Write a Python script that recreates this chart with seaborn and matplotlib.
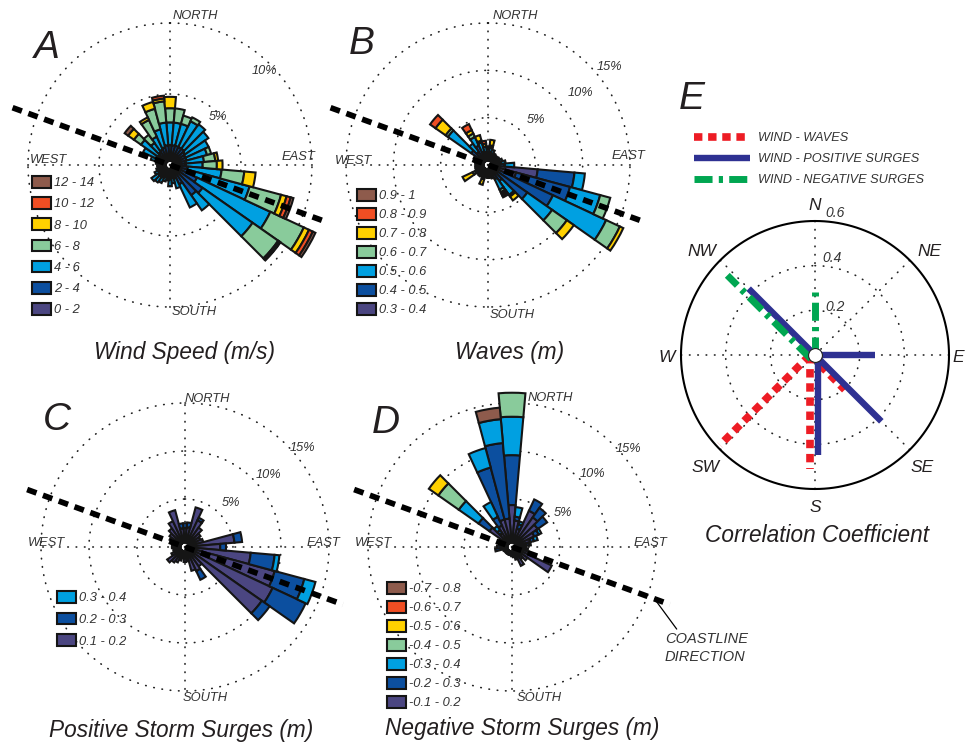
import numpy as np
import matplotlib
matplotlib.use("Agg")
import matplotlib.pyplot as plt
from matplotlib.patches import Patch
from matplotlib.lines import Line2D
from matplotlib.transforms import offset_copy
import seaborn as sns

sns.set_style("white")
plt.rcParams["font.family"] = ["Liberation Sans", "DejaVu Sans"]
plt.rcParams["font.style"] = "italic"

# ---------------- data ----------------
BEARINGS = [0, 10, 20, 30, 40, 50, 60, 70, 80, 90, 100, 110, 120, 130, 140, 150, 160, 170,
            180, 190, 200, 210, 220, 230, 240, 250, 260, 270, 280, 290, 300, 310, 320, 330, 340, 350]

# A - wind speed (m/s), % of records per direction
A_LABELS = ["0 - 2", "2 - 4", "4 - 6", "6 - 8", "8 - 10", "10 - 12", "12 - 14"]
A_0_2 = [0.1, 0.1, 0.1, 0.1, 0.1, 0.1, 0.1, 0.1, 0.1, 0.1, 0.15, 0.2, 0.3, 0.3, 0.3, 0.2, 0.1, 0.1,
         0.1, 0.1, 0.1, 0.1, 0.1, 0.1, 0.1, 0.1, 0.1, 0.1, 0.1, 0.1, 0.1, 0.1, 0.1, 0.1, 0.1, 0.1]
A_2_4 = [1.0, 1.0, 1.0, 1.0, 1.0, 0.9, 0.8, 0.8, 0.7, 0.7, 0.8, 1.0, 1.5, 2.2, 2.0, 1.0, 0.6, 0.5,
         0.6, 0.5, 0.5, 0.6, 0.6, 0.6, 0.5, 0.4, 0.4, 0.4, 0.4, 0.6, 0.7, 0.6, 0.7, 0.8, 0.9, 1.0]
A_4_6 = [1.6, 1.6, 1.6, 2.0, 2.1, 2.0, 1.8, 1.5, 1.3, 1.2, 2.4, 4.3, 5.7, 4.3, 1.3, 1.8, 0.7, 0.4,
         0.5, 0.2, 0.3, 0.4, 0.5, 0.6, 0.3, 0.2, 0.1, 0.1, 0.2, 0.4, 1.0, 1.5, 0.8, 1.0, 1.3, 1.6]
A_6_8 = [1.0, 1.0, 0.6, 0.3, 0, 0, 0, 0.3, 0.8, 1.0, 1.6, 2.3, 2.6, 2.2, 0, 0, 0, 0,
         0, 0, 0, 0, 0, 0, 0, 0, 0, 0, 0, 0, 0, 0.6, 0.7, 1.3, 1.5, 1.5]
A_8_10 = [0.8, 0, 0, 0, 0, 0, 0, 0, 0.2, 0.4, 0.8, 0.4, 0.4, 0.1, 0, 0, 0, 0,
          0, 0, 0, 0, 0, 0, 0, 0, 0, 0, 0, 0, 0, 0.5, 0, 0.2, 0.5, 0.2]
A_10_12 = [0, 0, 0, 0, 0, 0, 0, 0, 0, 0, 0, 0.3, 0.3, 0.05, 0, 0, 0, 0,
           0, 0, 0, 0, 0, 0, 0, 0, 0, 0, 0, 0, 0, 0, 0, 0, 0, 0.2]
A_12_14 = [0, 0, 0, 0, 0, 0, 0, 0, 0, 0, 0, 0.2, 0.2, 0.05, 0, 0, 0, 0,
           0, 0, 0, 0, 0, 0, 0, 0, 0, 0, 0, 0, 0, 0.3, 0, 0, 0, 0]

# B - waves (m)
B_LABELS = ["0.3 - 0.4", "0.4 - 0.5", "0.5 - 0.6", "0.6 - 0.7", "0.7 - 0.8", "0.8 - 0.9", "0.9 - 1"]
B_03_04 = [0.2, 0.2, 0.2, 0.2, 0.2, 0.2, 0.2, 0.2, 0.3, 0.5, 4.8, 2.6, 0.6, 0.6, 0.6, 0.4, 0.2, 0.2,
           0.2, 0.2, 0.2, 0.2, 0.2, 0.2, 0.2, 0.2, 0.2, 0.2, 0.2, 0.2, 0.2, 0.2, 0.2, 0.2, 0.2, 0.2]
B_04_05 = [0.6, 0.7, 0.5, 0.4, 0.4, 0.4, 0.4, 0.5, 0.6, 0.8, 3.9, 5.9, 6.5, 4.0, 1.0, 0.8, 0.5, 0.4,
           0.4, 0.4, 0.4, 0.4, 0.4, 0.4, 0.5, 0.4, 0.4, 0.4, 0.4, 0.4, 0.5, 1.5, 1.0, 1.6, 0.8, 0.7]
B_05_06 = [0.5, 0.5, 0.5, 0.3, 0.2, 0.2, 0.3, 0.4, 0.5, 1.0, 1.1, 3.3, 6.2, 3.2, 1.8, 1.2, 0.3, 0.3,
           0.3, 0.2, 0.3, 0.3, 0.4, 0.3, 0.3, 0.3, 0.3, 0.2, 0.3, 0.4, 0.5, 3.0, 1.1, 1.0, 1.0, 0.6]
B_06_07 = [0, 0.2, 0, 0, 0, 0, 0, 0, 0, 0, 0, 1.1, 1.6, 1.9, 0.2, 0.3, 0, 0,
           0, 0, 0.2, 0, 0, 0, 0.3, 0, 0, 0, 0, 0, 0, 0.3, 0, 0.4, 0.2, 0]
B_07_08 = [0.2, 0.6, 0, 0, 0, 0, 0, 0, 0, 0, 0, 0, 0.4, 0.9, 0.5, 0.2, 0, 0,
           0, 0, 0.6, 0, 0, 0, 1.2, 0, 0, 0, 0, 0, 0, 1.3, 0, 0.4, 0.6, 0.3]
B_08_09 = [0, 0, 0, 0, 0, 0, 0, 0, 0, 0, 0, 0, 0, 0, 0, 0.2, 0, 0,
           0, 0, 0, 0, 0, 0, 0, 0, 0, 0, 0, 0, 0, 0.7, 0, 0.7, 0, 0.3]
B_09_10 = [0, 0, 0, 0, 0, 0, 0, 0, 0, 0, 0, 0, 0, 0, 0, 0.2, 0, 0,
           0, 0, 0, 0, 0, 0, 0, 0, 0, 0, 0, 0, 0, 0, 0, 0, 0, 0]

# C - positive storm surges (m)
C_LABELS = ["0.1 - 0.2", "0.2 - 0.3", "0.3 - 0.4"]
C_01_02 = [1.5, 1.6, 3.8, 2.6, 2.0, 1.5, 1.3, 1.5, 4.7, 3.2, 6.4, 9.2, 9.6, 9.3, 2.0, 2.3, 2.1, 1.0,
           1.1, 0.7, 1.0, 1.3, 1.5, 1.8, 1.1, 0.8, 0.7, 0.9, 0.8, 1.0, 1.3, 1.5, 1.9, 2.5, 3.5, 1.5]
C_02_03 = [0.5, 0.5, 0, 0.3, 0, 0, 0, 0, 0.8, 0.6, 2.5, 3.2, 3.8, 1.0, 0, 1.0, 0, 0,
           0, 0, 0, 0, 0, 0, 0, 0, 0, 0, 0, 0, 0, 0, 0, 0, 0, 0.5]
C_03_04 = [0, 0, 0, 0, 0, 0, 0, 0, 0, 0, 0.5, 1.2, 0, 0, 0, 0, 0, 0,
           0, 0, 0, 0, 0, 0, 0, 0, 0, 0, 0, 0, 0, 0, 0, 0, 0, 0]

# D - negative storm surges (m)
D_LABELS = ["-0.1 - 0.2", "-0.2 - 0.3", "-0.3 - 0.4", "-0.4 - 0.5", "-0.5 - 0.6", "-0.6 - 0.7", "-0.7 - 0.8"]
D_01_02 = [3.9, 2.3, 1.5, 3.7, 3.3, 2.8, 2.1, 1.5, 1.0, 0.7, 1.0, 1.3, 4.1, 1.5, 1.1, 1.7, 0.9, 0.6,
           0.5, 0.4, 0.4, 0.4, 0.4, 0.4, 0.4, 0.5, 0.3, 0.5, 0.7, 0.7, 1.0, 2.4, 1.3, 2.0, 2.5, 2.5]
D_02_03 = [5.2, 0.4, 0.5, 1.3, 1.2, 1.2, 0.5, 0.4, 0.3, 0.3, 0.2, 0, 0, 0, 0, 0, 0, 0,
           0, 0, 0, 0, 0, 0, 0, 0, 1.0, 0.6, 0, 0, 0, 1.4, 0.4, 1.0, 5.6, 7.9]
D_03_04 = [4.0, 1.0, 0.3, 0, 0, 0, 0.3, 0.4, 0.2, 0, 0, 0, 0, 0, 0, 0, 0, 0,
           0, 0, 0, 0, 0, 0, 0, 0, 0, 0, 0, 0, 0, 2.5, 0.5, 1.7, 2.1, 2.5]
D_04_05 = [2.5, 0, 0, 0, 0, 0, 0, 0, 0, 0, 0, 0, 0, 0, 0, 0, 0, 0,
           0, 0, 0, 0, 0, 0, 0, 0, 0, 0, 0, 0, 0, 2.6, 0, 0, 0, 0]
D_05_06 = [0, 0, 0, 0, 0, 0, 0, 0, 0, 0, 0, 0, 0, 0, 0, 0, 0, 0,
           0, 0, 0, 0, 0, 0, 0, 0, 0, 0, 0, 0, 0, 1.2, 0, 0, 0, 0]
D_06_07 = [0, 0, 0, 0, 0, 0, 0, 0, 0, 0, 0, 0, 0, 0, 0, 0, 0, 0,
           0, 0, 0, 0, 0, 0, 0, 0, 0, 0, 0, 0, 0, 0, 0, 0, 0, 0]
D_07_08 = [0, 0, 0, 0, 0, 0, 0, 0, 0, 0, 0, 0, 0, 0, 0, 0, 0, 0,
           0, 0, 0, 0, 0, 0, 0, 0, 0, 0, 0, 0, 0, 0, 0, 0, 0, 1.2]

# E - correlation coefficient by direction
E_DIRECTIONS = ["N", "NE", "E", "SE", "S", "SW", "W", "NW"]
E_BEARINGS = [0, 45, 90, 135, 180, 225, 270, 315]
WIND_WAVES = [0, 0, 0, 0.22, 0.51, 0.57, 0, 0]
WIND_POS_SURGES = [0, 0, 0.27, 0.42, 0.45, 0, 0, 0.42]
WIND_NEG_SURGES = [0.28, 0, 0, 0, 0, 0, 0, 0.53]
E_SERIES = ["WIND - WAVES", "WIND - POSITIVE SURGES", "WIND - NEGATIVE SURGES"]
E_RINGS = [0.2, 0.4, 0.6]

COAST_BEARING = 110

# ---------------- style ----------------
PAL7 = sns.color_palette(["#4b4681", "#0c4f9f", "#00a0e1", "#89cb9b", "#ffd100", "#f04e23", "#8e5b4c"])
PAL3 = PAL7[:3]
E_COLORS = sns.color_palette(["#ed1c24", "#2e3192", "#00a651"])
TXT = "#231f20"
GREY = "#333333"
EDGE = "#151515"

W, H = 966, 746
fig = plt.figure(figsize=(W / 100, H / 100), dpi=100)


def fx(x):
    return x / W


def fy(y):
    return 1 - y / H


def polar_axes(cx, cy, rp, rmax):
    ax = fig.add_axes([(cx - rp) / W, (H - cy - rp) / H, 2 * rp / W, 2 * rp / H], projection="polar")
    ax.set_theta_zero_location("N")
    ax.set_theta_direction(-1)
    ax.set_ylim(0, rmax)
    ax.axis("off")
    return ax


DOT = dict(color="#222222", lw=1.2, linestyle=(0, (0.3, 4.7)), dash_capstyle="round", zorder=1, clip_on=False)
CIRC = np.linspace(0, 2 * np.pi, 361)


def rose(cx, cy, rp, rings, classes, labels, colors, r0, coast_len, pct_pos, comp_off,
         leg_xy, leg_spacing):
    rmax = rings[-1]
    ax = polar_axes(cx, cy, rp, rmax)
    for r in rings:
        ax.plot(CIRC, np.full_like(CIRC, r), **DOT)
    for b in (0, 90, 180, 270):
        ax.plot([np.deg2rad(b)] * 2, [0, rmax * 1.03], **DOT)
    theta = np.deg2rad(np.array(BEARINGS, dtype=float))
    width = np.deg2rad(10)
    bottom = np.full(len(BEARINGS), r0)
    for vals, col in zip(classes, colors):
        v = np.asarray(vals, dtype=float)
        m = v > 0
        if m.any():
            bars = ax.bar(theta[m], v[m], width=width, bottom=bottom[m], color=col,
                          edgecolor=EDGE, linewidth=1.5, zorder=3)
            for p in bars:
                p.set_clip_on(False)
        bottom = bottom + v
    # coastline direction
    tc = np.deg2rad(COAST_BEARING)
    ax.plot([tc + np.pi, tc, tc], [coast_len, 0, coast_len], color="black", lw=4.1,
            linestyle=(0, (1.75, 1.2)), dash_capstyle="butt", zorder=5, clip_on=False)
    # percent labels
    for txt, b, r in pct_pos:
        ax.text(np.deg2rad(b), r, txt, ha="center", va="center", fontsize=9.2, color=GREY, zorder=6)
    # compass labels
    for name, (dx, dy, ha) in comp_off.items():
        ax.annotate(name, xy=(0.5, 0.5), xycoords="axes fraction", xytext=(dx, dy),
                    textcoords="offset pixels", ha=ha, va="center", fontsize=9.3, color=GREY)
    handles = [Patch(facecolor=c, edgecolor=EDGE, linewidth=1.5) for c in colors][::-1]
    ax.legend(handles, labels[::-1], loc="upper left", bbox_to_anchor=(fx(leg_xy[0]), fy(leg_xy[1])),
              bbox_transform=fig.transFigure, frameon=False, fontsize=9.3, handlelength=1.45,
              handleheight=1.0, handletextpad=0.25, labelspacing=leg_spacing, borderpad=0,
              borderaxespad=0, labelcolor=GREY)
    return ax


axA = rose(170, 165, 142, [5, 10], [A_0_2, A_2_4, A_4_6, A_6_8, A_8_10, A_10_12, A_12_14],
           A_LABELS, PAL7, 0.3, 11.8,
           [("5%", 45, 4.8), ("10%", 45, 9.4)],
           {"NORTH": (3, 149, "left"), "SOUTH": (2, -147, "left"),
            "WEST": (-140, 5, "left"), "EAST": (145, 8, "right")},
           (32, 176), 0.62)

axB = rose(488, 165, 142, [5, 10, 15], [B_03_04, B_04_05, B_05_06, B_06_07, B_07_08, B_08_09, B_09_10],
           B_LABELS, PAL7, 0.47, 17.7,
           [("5%", 47, 7.0), ("10%", 52, 12.4), ("15%", 51, 16.5)],
           {"NORTH": (5, 149, "left"), "SOUTH": (2, -150, "left"),
            "WEST": (-153, 4, "left"), "EAST": (157, 9, "right")},
           (357, 189), 0.45)

axC = rose(185, 547, 144, [5, 10, 15], [C_01_02, C_02_03, C_03_04],
           C_LABELS, PAL3, 0.47, 17.5,
           [("5%", 46, 6.6), ("10%", 49, 11.5), ("15%", 50, 16.0)],
           {"NORTH": (0, 148, "left"), "SOUTH": (-2, -151, "left"),
            "WEST": (-157, 4, "left"), "EAST": (155, 4, "right")},
           (57, 591), 0.66)

axD = rose(512, 547, 144, [5, 10, 15], [D_01_02, D_02_03, D_03_04, D_04_05, D_05_06, D_06_07, D_07_08],
           D_LABELS, PAL7, 0.47, 17.5,
           [("5%", 56, 6.4), ("10%", 48, 11.3), ("15%", 50, 15.9)],
           {"NORTH": (16, 149, "left"), "SOUTH": (5, -151, "left"),
            "WEST": (-157, 4, "left"), "EAST": (155, 4, "right")},
           (387, 582), 0.45)

axD.annotate("COASTLINE\nDIRECTION", xy=(np.deg2rad(COAST_BEARING), 15.8), xycoords="data",
             xytext=(665, H - 648), textcoords="figure pixels", ha="left", va="center",
             fontsize=10.5, color=GREY, linespacing=1.3, annotation_clip=False,
             arrowprops=dict(arrowstyle="-", color="black", lw=0.9, relpos=(0.17, 1.0),
                             shrinkA=0, shrinkB=0))

# ---------------- E: correlation ----------------
axE = polar_axes(815, 355, 134, E_RINGS[-1])
axE.plot(CIRC, np.full_like(CIRC, E_RINGS[-1]), color="black", lw=1.5, zorder=2, clip_on=False)
for r in E_RINGS[:-1]:
    axE.plot(CIRC, np.full_like(CIRC, r), **DOT)
for b in E_BEARINGS:
    axE.plot([np.deg2rad(b)] * 2, [0, E_RINGS[-1]], **DOT)

E_STYLES = [
    dict(color=E_COLORS[0], lw=5.5, linestyle=(0, (1.1, 0.75)), dash_capstyle="butt"),
    dict(color=E_COLORS[1], lw=4.6, linestyle="-", solid_capstyle="butt"),
    dict(color=E_COLORS[2], lw=5.0, linestyle=(0, (2.6, 0.9, 0.6, 0.9)), dash_capstyle="butt"),
]
# small sideways shifts (pixels) so overlapping segments stay visible
E_SHIFT = [{135: (-5, 0), 180: (-5, 0), 225: (-5, 0)},
           {180: (3, 0)},
           {315: (-4, -4)}]
for vals, style, shift in zip([WIND_WAVES, WIND_POS_SURGES, WIND_NEG_SURGES], E_STYLES, E_SHIFT):
    for b, v in zip(E_BEARINGS, vals):
        if v > 0:
            dx, dy = shift.get(b, (0, 0))
            tr = offset_copy(axE.transData, fig=fig, x=dx, y=dy, units="dots")
            axE.plot([np.deg2rad(b)] * 2, [0, v], transform=tr, zorder=4, **style)
axE.plot([0], [0], marker="o", ms=10, mfc="white", mec="#222222", mew=0.8, zorder=7)

E_LABEL_OFF = {"N": (0, 150), "NE": (115, 103), "E": (143, -2), "SE": (107, -112),
               "S": (0, -153), "SW": (-110, -113), "W": (-148, -2), "NW": (-113, 103)}
for d in E_DIRECTIONS:
    dx, dy = E_LABEL_OFF[d]
    axE.annotate(d, xy=(0.5, 0.5), xycoords="axes fraction", xytext=(dx, dy),
                 textcoords="offset pixels", ha="center", va="center", fontsize=12.5, color=TXT)
for txt, (dx, dy) in zip(["0.2", "0.4", "0.6"], [(20, 48), (17, 97), (20, 142)]):
    axE.annotate(txt, xy=(0.5, 0.5), xycoords="axes fraction", xytext=(dx, dy),
                 textcoords="offset pixels", ha="center", va="center", fontsize=10, color=GREY)

e_handles = [Line2D([], [], **s) for s in E_STYLES]
axE.legend(e_handles, E_SERIES, loc="upper left", bbox_to_anchor=(fx(694), fy(132)),
           bbox_transform=fig.transFigure, frameon=False, fontsize=9.2, handlelength=4.4,
           handletextpad=0.6, labelspacing=0.72, borderpad=0, borderaxespad=0, labelcolor=GREY)

# ---------------- panel letters and titles ----------------
for letter, x, y in [("A", 47, 48), ("B", 362, 44), ("C", 57, 420), ("D", 386, 423), ("E", 692, 99)]:
    fig.text(fx(x), fy(y), letter, fontsize=28, ha="center", va="center", color=TXT)
for title, x, y in [("Wind Speed (m/s)", 185, 353), ("Waves (m)", 510, 353),
                    ("Positive Storm Surges (m)", 181, 730), ("Negative Storm Surges (m)", 522, 728),
                    ("Correlation Coefficient", 817, 535)]:
    fig.text(fx(x), fy(y), title, fontsize=16.3, ha="center", va="center", color=TXT)

fig.savefig("out.png", dpi=100, facecolor="white")
